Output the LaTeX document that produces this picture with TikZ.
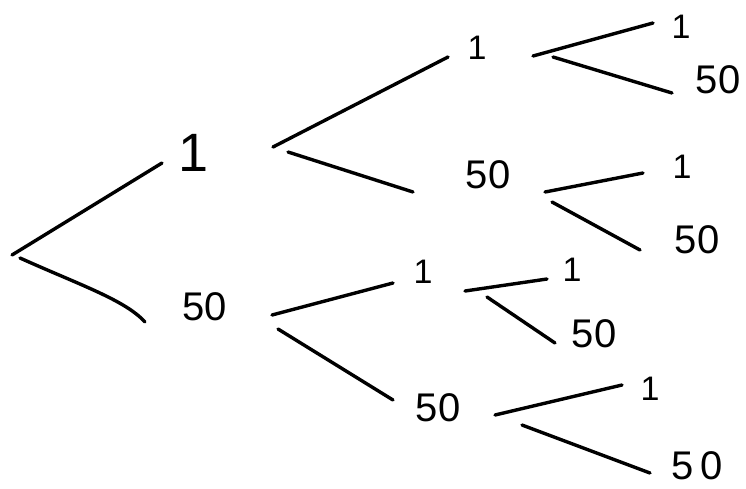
\documentclass[tikz,border=0pt]{standalone}
\usepackage{fontspec}
\setmainfont{Liberation Sans}
\begin{document}
\begin{tikzpicture}[x=1pt,y=-1pt,
  br/.style={line width=3.4pt,line cap=round,black},
  lab/.style={inner sep=0pt,font=\fontsize{40}{40}\selectfont},
  labs/.style={inner sep=0pt,font=\fontsize{34}{34}\selectfont}]
\useasboundingbox (0,0) rectangle (746,488);
% labels
\node[lab,font=\fontsize{54}{54}\selectfont] (n1) at (194,153) {1};
\node[lab] (n50) at (205,307) {50};
\node[labs] (n11) at (477,48) {1};
\node[lab] (n150) at (488,175) {50};
\node[labs] (n501) at (423,272) {1};
\node[lab] (n5050) at (438,408) {50};
\node[labs] (l111) at (681,27) {1};
\node[lab] (l1150) at (718,80) {50};
\node[labs] (l1501) at (682,167) {1};
\node[lab] (l15050) at (697,240) {50};
\node[labs] (l5011) at (572,270) {1};
\node[lab] (l50150) at (594,334) {50};
\node[labs] (l50501) at (650,389) {1};
\node[lab] (l505050) at (697,466) {5\,0};
% line end points
\coordinate (r1) at (12,255);  \coordinate (r1e) at (162,163);
\coordinate (r2) at (20,258);  \coordinate (r2e) at (145,322);
\coordinate (a1) at (273,147); \coordinate (a1e) at (448,57);
\coordinate (a2) at (288,152); \coordinate (a2e) at (413,192);
\coordinate (b1) at (272,315); \coordinate (b1e) at (393,283);
\coordinate (b2) at (278,329); \coordinate (b2e) at (393,400);
\coordinate (c1) at (533,56);  \coordinate (c1e) at (653,23);
\coordinate (c2) at (553,57);  \coordinate (c2e) at (672,93);
\coordinate (d1) at (545,192); \coordinate (d1e) at (643,173);
\coordinate (d2) at (552,202); \coordinate (d2e) at (640,250);
\coordinate (e1) at (465,291); \coordinate (e1e) at (547,279);
\coordinate (e2) at (487,297); \coordinate (e2e) at (555,343);
\coordinate (f1) at (495,415); \coordinate (f1e) at (622,385);
\coordinate (f2) at (522,425); \coordinate (f2e) at (650,473);
% branches
\draw[br] (r1) -- (r1e);
\draw[br] (r2) .. controls (80,285) and (125,300) .. (r2e);
\draw[br] (a1) -- (a1e);
\draw[br] (a2) -- (a2e);
\draw[br] (b1) -- (b1e);
\draw[br] (b2) -- (b2e);
\draw[br] (c1) -- (c1e);
\draw[br] (c2) -- (c2e);
\draw[br] (d1) -- (d1e);
\draw[br] (d2) -- (d2e);
\draw[br] (e1) -- (e1e);
\draw[br] (e2) -- (e2e);
\draw[br] (f1) -- (f1e);
\draw[br] (f2) -- (f2e);
\end{tikzpicture}
\end{document}
